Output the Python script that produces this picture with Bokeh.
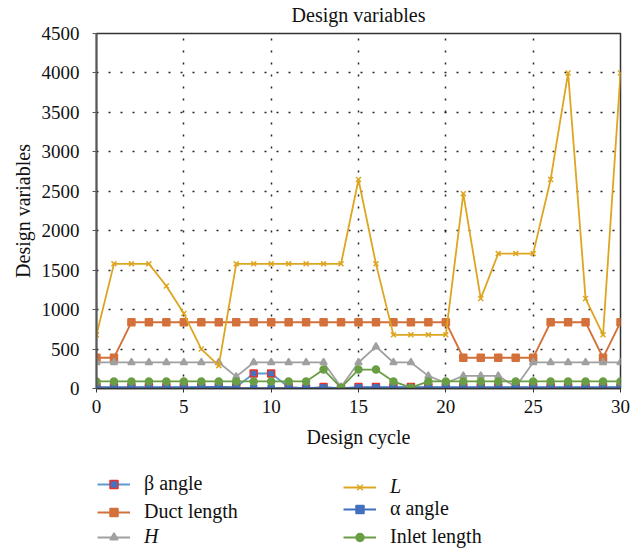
from bokeh.plotting import figure
from bokeh.models import Range1d, FixedTicker, Legend, LegendItem, ColumnDataSource
from bokeh.layouts import column
from bokeh.embed import file_html
from bokeh.resources import INLINE

cycle = list(range(31))
beta_angle = [20]*9 + [190, 190, 20, 0, 20, 0] + [20]*16
duct_length = [390, 390] + [840]*19 + [390]*5 + [840, 840, 840, 390, 840]
H = [330]*8 + [150] + [330]*5 + [20, 330, 530, 330, 330, 160, 70, 160, 160, 160, 20] + [330]*6
L = [680, 1580, 1580, 1580, 1300, 950, 500, 290] + [1580]*7 + [2650, 1580] + [680]*4 + \
    [2470, 1140, 1710, 1710, 1710, 2650, 4000, 1140, 680, 4000]
alpha_angle = [5]*6 + [15, 25] + [5]*23
inlet_length = [90]*13 + [240, 10, 240, 240, 90, 10] + [90]*12

x_ticks = [0, 5, 10, 15, 20, 25, 30]
y_ticks = [0, 500, 1000, 1500, 2000, 2500, 3000, 3500, 4000, 4500]

FONT = "Liberation Serif"

p = figure(frame_width=524, frame_height=355, x_range=Range1d(0, 30), y_range=Range1d(0, 4500),
           output_backend="svg", toolbar_location=None, title="Design variables",
           min_border_left=96, min_border_right=16, min_border_top=33, min_border_bottom=0)
p.title.text_font = FONT
p.title.text_font_size = "20px"
p.title.text_font_style = "normal"
p.title.align = "center"
p.title.standoff = 0
p.title.padding = (0, 0, 0, 8)
p.title.text_color = "#111111"

p.outline_line_color = "#333333"
p.outline_line_width = 1.5

for ax in (p.xaxis[0], p.yaxis[0]):
    ax.major_label_text_font = FONT
    ax.major_label_text_font_size = "19px"
    ax.major_label_text_color = "#111111"
    ax.axis_label_text_font = FONT
    ax.axis_label_text_font_size = "20px"
    ax.axis_label_text_font_style = "normal"
    ax.axis_label_text_color = "#111111"
    ax.minor_tick_line_color = None
    ax.major_tick_in = 0
    ax.major_tick_out = 4
p.xaxis.ticker = FixedTicker(ticks=x_ticks)
p.yaxis.ticker = FixedTicker(ticks=y_ticks)
p.xaxis.axis_label = "Design cycle"
p.yaxis.axis_label = "Design variables"
p.xaxis.axis_line_color = "#333333"
p.xaxis.axis_line_width = 1.5
p.xaxis.major_tick_line_color = "#333333"
p.yaxis.axis_line_color = "#595959"
p.yaxis.axis_line_width = 2
p.yaxis.major_tick_line_color = "#595959"
p.xaxis.major_label_standoff = 7
p.yaxis.major_label_standoff = 13
p.xaxis.axis_label_standoff = 10
p.yaxis.axis_label_standoff = 5

for g in (p.xgrid[0], p.ygrid[0]):
    g.grid_line_color = "black"
    g.grid_line_dash = "2 10"
    g.grid_line_width = 1.5
    g.grid_line_alpha = 0.85

data = dict(x=cycle, beta=beta_angle, duct=duct_length, H=H, L=L,
            alpha=alpha_angle, inlet=inlet_length)
src = ColumnDataSource(data)

series = [
    ("beta", "β angle", "#5B9BD5", "square", "#4472C4", "#E8302A", 7),
    ("duct", "Duct length", "#D4703A", "square", "#D4703A", "#D4703A", 7),
    ("H", "H", "#A0A0A0", "triangle", "#A0A0A0", "#A0A0A0", 7),
    ("L", "L", "#DDA520", "x", "#DDA520", "#DDA520", 7),
    ("alpha", "α angle", "#4070BE", "square", "#4070BE", "#4070BE", 6),
    ("inlet", "Inlet length", "#6A9E45", "circle", "#6A9E45", "#6A9E45", 7),
]

# legend strip below the chart: same series, drawn in a view where they fall outside
pl = figure(frame_width=524, frame_height=100, x_range=Range1d(0, 30), y_range=Range1d(-2, -1),
            output_backend="svg", toolbar_location=None,
            min_border_left=96, min_border_right=16, min_border_top=0, min_border_bottom=0)
pl.axis.visible = False
pl.grid.visible = False
pl.outline_line_color = None
src2 = ColumnDataSource(data)

items = {}
for key, label, lc, mk, fc, ec, sz in series:
    p.line("x", key, source=src, line_color=lc, line_width=1.8)
    p.scatter("x", key, source=src, marker=mk, size=sz, fill_color=fc,
              line_color=ec, line_width=1.5)
    r1 = pl.line("x", key, source=src2, line_color=lc, line_width=1.8)
    r2 = pl.scatter("x", key, source=src2, marker=mk, size=sz, fill_color=fc,
                    line_color=ec, line_width=1.5)
    items[key] = LegendItem(label=label, renderers=[r1, r2])

def make_legend(its, loc, italic=False):
    lg = Legend(items=its, location=loc, orientation="vertical")
    lg.label_text_font = FONT
    lg.label_text_font_size = "20px"
    lg.label_text_color = "#111111"
    lg.label_text_font_style = "italic" if italic else "normal"
    lg.background_fill_alpha = 0
    lg.border_line_color = None
    lg.padding = 0
    lg.margin = 0
    lg.spacing = 5
    lg.glyph_width = 33
    lg.glyph_height = 20
    lg.label_height = 20
    lg.label_standoff = 14
    pl.add_layout(lg, "center")

# (x, y) = bottom-left corner of each legend block, in px from the strip's bottom-left
make_legend([items["beta"], items["duct"]], (1, 27))
make_legend([items["H"]], (1, 2), italic=True)
make_legend([items["L"]], (247, 52), italic=True)
make_legend([items["alpha"], items["inlet"]], (247, 2))

layout = column(p, pl, spacing=0)
open("out.html", "w").write(file_html(layout, INLINE))
